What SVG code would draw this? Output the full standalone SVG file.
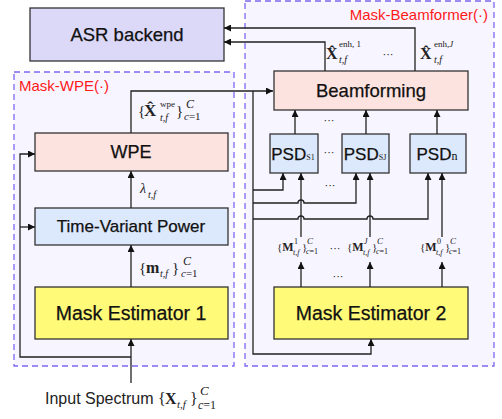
<svg xmlns="http://www.w3.org/2000/svg" width="502" height="419" viewBox="0 0 502 419">
<defs>
<marker id="ah" viewBox="0 0 10 10" refX="10" refY="5" markerWidth="7" markerHeight="7" markerUnits="userSpaceOnUse" orient="auto">
<path d="M0,0 L10,5 L0,10 z" fill="#111"/>
</marker>
<style>
.grp{fill:#f7f5ff;stroke:#7b68f0;stroke-width:1.3;stroke-dasharray:6,4}
.glab{font-family:"Liberation Sans",Arial,sans-serif;font-size:15px;fill:#ff1a1a}
.box{stroke:#333;stroke-width:1.3}
.lab{font-family:"Liberation Sans",Arial,sans-serif;fill:#111;text-anchor:middle;stroke:#111;stroke-width:0.25}
.m{font-family:"Liberation Serif","Times New Roman",serif;fill:#222}
.b{font-weight:bold}
.i{font-style:italic}
.ln{fill:none;stroke:#222;stroke-width:1.3}
.ar{marker-end:url(#ah)}
.dots{font-family:"Liberation Sans",Arial,sans-serif;font-size:11px;fill:#222;text-anchor:middle}
</style>
</defs>
<rect width="502" height="419" fill="#fff"/>

<g id="mask-wpe-group">
<rect class="grp" x="14" y="72" width="220" height="294"/>
<text class="glab" x="19" y="91">Mask-WPE(·)</text>
</g>
<g id="mask-beamformer-group">
<rect class="grp" x="245" y="1" width="249" height="365"/>
<text class="glab" x="488" y="20" text-anchor="end">Mask-Beamformer(·)</text>
</g>

<g id="asr">
<rect class="box" x="30" y="8" width="194" height="53" fill="#dcd8f8"/>
<text class="lab" x="127" y="41" font-size="18.5">ASR backend</text>
</g>
<g id="wpe">
<rect class="box" x="35" y="133" width="193" height="38" fill="#fde3df"/>
<text class="lab" x="131" y="158" font-size="18">WPE</text>
</g>
<g id="tvp">
<rect class="box" x="35" y="208" width="193" height="37" fill="#dce8fb"/>
<text class="lab" x="131" y="232" font-size="17">Time-Variant Power</text>
</g>
<g id="me1">
<rect class="box" x="35" y="287" width="193" height="52" fill="#fffa78"/>
<text class="lab" x="131" y="320" font-size="19.5">Mask Estimator 1</text>
</g>
<g id="beamforming">
<rect class="box" x="274" y="71" width="194" height="39" fill="#fde3df"/>
<text class="lab" x="371" y="97" font-size="18.5">Beamforming</text>
</g>
<g id="psd-s1">
<rect class="box" x="270" y="134" width="48" height="39" fill="#dce8fb"/>
<text class="lab" x="293" y="160" font-size="17">PSD<tspan class="m" font-size="8" stroke-width="0">S1</tspan></text>
</g>
<g id="psd-sj">
<rect class="box" x="342" y="134" width="47" height="39" fill="#dce8fb"/>
<text class="lab" x="365" y="160" font-size="17">PSD<tspan class="m" font-size="8" stroke-width="0">SJ</tspan></text>
</g>
<g id="psd-n">
<rect class="box" x="410" y="134" width="56" height="39" fill="#dce8fb"/>
<text class="lab" x="437" y="160" font-size="17">PSD<tspan font-size="12" stroke-width="0" font-family="Liberation Serif, serif">n</tspan></text>
</g>
<g id="me2">
<rect class="box" x="274" y="287" width="194" height="52" fill="#fffa78"/>
<text class="lab" x="371" y="320" font-size="19.5">Mask Estimator 2</text>
</g>

<g id="connectors">
<path class="ln ar" d="M415,71 V28 H224"/>
<path class="ln ar" d="M325,71 V42 H224"/>
<path class="ln ar" d="M131,133 V91 H273"/>
<path class="ln ar" d="M253,91 V354 H371 V339"/>
<path class="ln ar" d="M253,190 H283 V173"/>
<path class="ln ar" d="M253,203 H298 a3,3 0 0 1 6,0 H356 V173"/>
<path class="ln ar" d="M253,219 H298 a3,3 0 0 1 6,0 H367 a3,3 0 0 1 6,0 H428 V173"/>
<path class="ln ar" d="M301,237 V173"/>
<path class="ln ar" d="M370,237 V173"/>
<path class="ln ar" d="M442,237 V173"/>
<path class="ln ar" d="M301,287 V262"/>
<path class="ln ar" d="M370,287 V262"/>
<path class="ln ar" d="M442,287 V262"/>
<path class="ln ar" d="M295,134 V110"/>
<path class="ln ar" d="M366,134 V110"/>
<path class="ln ar" d="M437,134 V110"/>
<path class="ln ar" d="M131,208 V171"/>
<path class="ln ar" d="M131,287 V245"/>
<path class="ln ar" d="M131,383 V339"/>
<path class="ln ar" d="M131,357 H20 V154 H35"/>
<path class="ln ar" d="M20,227 H35"/>
</g>

<g id="labels">
<!-- X wpe -->
<text class="m" x="138" y="116" font-size="15">{</text>
<text class="m b" x="144" y="116" font-size="17">X̂</text>
<text class="m" x="160" y="107" font-size="9">wpe</text>
<text class="m i" x="160" y="121" font-size="10">t,f</text>
<text class="m" x="176" y="116" font-size="15">}</text>
<text class="m i" x="186" y="108" font-size="12">C</text>
<text class="m i" x="184" y="120" font-size="11">c<tspan font-style="normal">=1</tspan></text>
<!-- lambda -->
<text class="m i" x="140" y="193" font-size="14">λ</text>
<text class="m i" x="148" y="198" font-size="10">t,f</text>
<!-- m -->
<text class="m" x="139" y="273" font-size="15">{</text>
<text class="m b" x="146" y="273" font-size="16">m</text>
<text class="m i" x="160" y="277" font-size="10">t,f</text>
<text class="m" x="172" y="273" font-size="15">}</text>
<text class="m i" x="183" y="265" font-size="12">C</text>
<text class="m i" x="181" y="277" font-size="11">c<tspan font-style="normal">=1</tspan></text>
<!-- X enh -->
<text class="m b" x="326" y="59" font-size="16">X̂</text>
<text class="m" x="339" y="47" font-size="9">enh, 1</text>
<text class="m i" x="339" y="63" font-size="10">t,f</text>
<text class="dots" x="388" y="58">···</text>
<text class="m b" x="420" y="59" font-size="16">X̂</text>
<text class="m" x="434" y="47" font-size="9">enh,<tspan font-style="italic">J</tspan></text>
<text class="m i" x="434" y="63" font-size="10">t,f</text>
<!-- dots -->
<text class="dots" x="329" y="124">···</text>
<text class="dots" x="329" y="156">···</text>
<text class="dots" x="330" y="189">···</text>
<text class="dots" x="338" y="280">···</text>
<text class="dots" x="335" y="252">···</text>
<!-- M labels -->
<text class="m" x="277" y="251" font-size="11">{<tspan class="b" font-size="12">M</tspan></text>
<text class="m" x="294" y="244" font-size="8">1</text>
<text class="m i" x="293" y="255" font-size="8">t,f</text>
<text class="m" x="302" y="251" font-size="11">}</text>
<text class="m i" x="307" y="244" font-size="9">C</text>
<text class="m i" x="306" y="254" font-size="8">c<tspan font-style="normal">=1</tspan></text>

<text class="m" x="347" y="251" font-size="11">{<tspan class="b" font-size="12">M</tspan></text>
<text class="m i" x="364" y="244" font-size="8">J</text>
<text class="m i" x="363" y="255" font-size="8">t,f</text>
<text class="m" x="372" y="251" font-size="11">}</text>
<text class="m i" x="377" y="244" font-size="9">C</text>
<text class="m i" x="376" y="254" font-size="8">c<tspan font-style="normal">=1</tspan></text>

<text class="m" x="420" y="251" font-size="11">{<tspan class="b" font-size="12">M</tspan></text>
<text class="m" x="437" y="244" font-size="8">0</text>
<text class="m i" x="436" y="255" font-size="8">t,f</text>
<text class="m" x="445" y="251" font-size="11">}</text>
<text class="m i" x="450" y="244" font-size="9">C</text>
<text class="m i" x="449" y="254" font-size="8">c<tspan font-style="normal">=1</tspan></text>
<!-- Input -->
<text x="45" y="404" font-family="Liberation Sans, Arial, sans-serif" font-size="16" fill="#222">Input Spectrum</text>
<text class="m" x="158" y="404" font-size="16">{</text>
<text class="m b" x="165" y="404" font-size="16">X</text>
<text class="m i" x="177" y="408" font-size="11">t,f</text>
<text class="m" x="190" y="404" font-size="16">}</text>
<text class="m i" x="200" y="395" font-size="13">C</text>
<text class="m i" x="198" y="409" font-size="12">c<tspan font-style="normal">=1</tspan></text>
</g>
</svg>
